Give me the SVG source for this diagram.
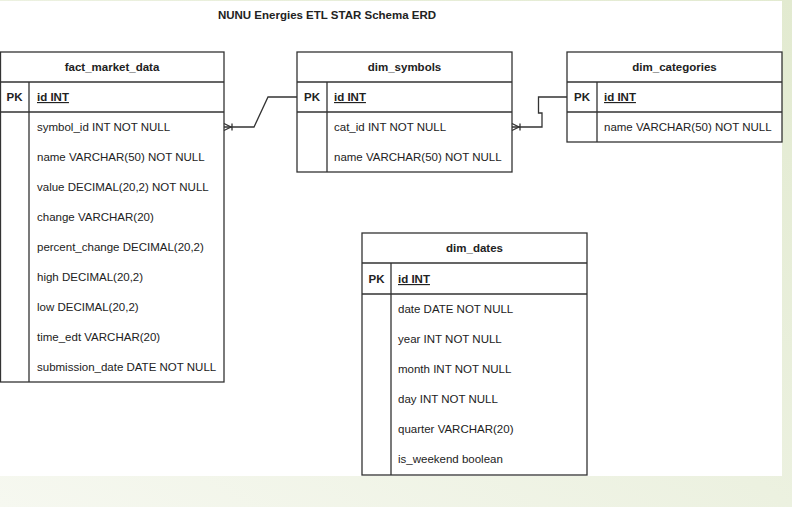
<svg xmlns="http://www.w3.org/2000/svg" width="792" height="507" viewBox="0 0 792 507">
<defs>
<linearGradient id="bg" x1="0" y1="1" x2="1" y2="0">
<stop offset="0" stop-color="#f6f8f0"/>
<stop offset="1" stop-color="#e2ead0"/>
</linearGradient>
<style>
.box{fill:#ffffff;stroke:#333333;stroke-width:1.3}
.ln{fill:none;stroke:#333333;stroke-width:1.3}
.t{font-family:"Liberation Sans",Arial,sans-serif;font-size:11.5px;fill:#222222}
.h{font-weight:bold;text-anchor:middle}
.pk{font-weight:bold;text-anchor:middle}
.id{font-weight:bold;text-decoration:underline}
.title{font-family:"Liberation Sans",Arial,sans-serif;font-size:11.5px;font-weight:bold;fill:#222222;text-anchor:middle}
</style>
</defs>
<rect x="0" y="0" width="792" height="507" fill="url(#bg)"/>
<rect x="0" y="1" width="782" height="475" fill="#ffffff"/>
<text class="title" x="327" y="19">NUNU Energies ETL STAR Schema ERD</text>

<g id="fact_market_data">
<rect class="box" x="0.5" y="52" width="223.5" height="330"/>
<path class="ln" d="M0.5 82H224M0.5 112H224M29 82V382"/>
<text class="t h" x="112" y="71">fact_market_data</text>
<text class="t pk" x="14.5" y="101">PK</text>
<text class="t id" x="37" y="101">id INT</text>
<text class="t" x="37" y="131">symbol_id INT NOT NULL</text>
<text class="t" x="37" y="161">name VARCHAR(50) NOT NULL</text>
<text class="t" x="37" y="191">value DECIMAL(20,2) NOT NULL</text>
<text class="t" x="37" y="221">change VARCHAR(20)</text>
<text class="t" x="37" y="251">percent_change DECIMAL(20,2)</text>
<text class="t" x="37" y="281">high DECIMAL(20,2)</text>
<text class="t" x="37" y="311">low DECIMAL(20,2)</text>
<text class="t" x="37" y="341">time_edt VARCHAR(20)</text>
<text class="t" x="37" y="371">submission_date DATE NOT NULL</text>
</g>

<g id="dim_symbols">
<rect class="box" x="297" y="52" width="215" height="120"/>
<path class="ln" d="M297 82H512M297 112H512M327 82V172"/>
<text class="t h" x="404.5" y="71">dim_symbols</text>
<text class="t pk" x="312" y="101">PK</text>
<text class="t id" x="334" y="101">id INT</text>
<text class="t" x="334" y="131">cat_id INT NOT NULL</text>
<text class="t" x="334" y="161">name VARCHAR(50) NOT NULL</text>
</g>

<g id="dim_categories">
<rect class="box" x="567" y="52" width="215" height="90"/>
<path class="ln" d="M567 82H782M567 112H782M597 82V142"/>
<text class="t h" x="674.5" y="71">dim_categories</text>
<text class="t pk" x="582" y="101">PK</text>
<text class="t id" x="604" y="101">id INT</text>
<text class="t" x="604" y="131">name VARCHAR(50) NOT NULL</text>
</g>

<g id="dim_dates">
<rect class="box" x="362" y="233" width="225" height="242"/>
<path class="ln" d="M362 263H587M362 294H587M391 263V475"/>
<text class="t h" x="474.5" y="252">dim_dates</text>
<text class="t pk" x="376.5" y="283">PK</text>
<text class="t id" x="398" y="283">id INT</text>
<text class="t" x="398" y="313">date DATE NOT NULL</text>
<text class="t" x="398" y="343">year INT NOT NULL</text>
<text class="t" x="398" y="373">month INT NOT NULL</text>
<text class="t" x="398" y="403">day INT NOT NULL</text>
<text class="t" x="398" y="433">quarter VARCHAR(20)</text>
<text class="t" x="398" y="463">is_weekend boolean</text>
</g>

<g id="connectors">
<path class="ln" d="M224 127H254L268 97H297"/>
<path class="ln" d="M224 123.5L231 127L224 130.5M232 123.5V130.5"/>
<path class="ln" d="M512 127H542V113H538.5V97H567"/>
<path class="ln" d="M512 123.5L519 127L512 130.5M520 123.5V130.5"/>
</g>
</svg>
